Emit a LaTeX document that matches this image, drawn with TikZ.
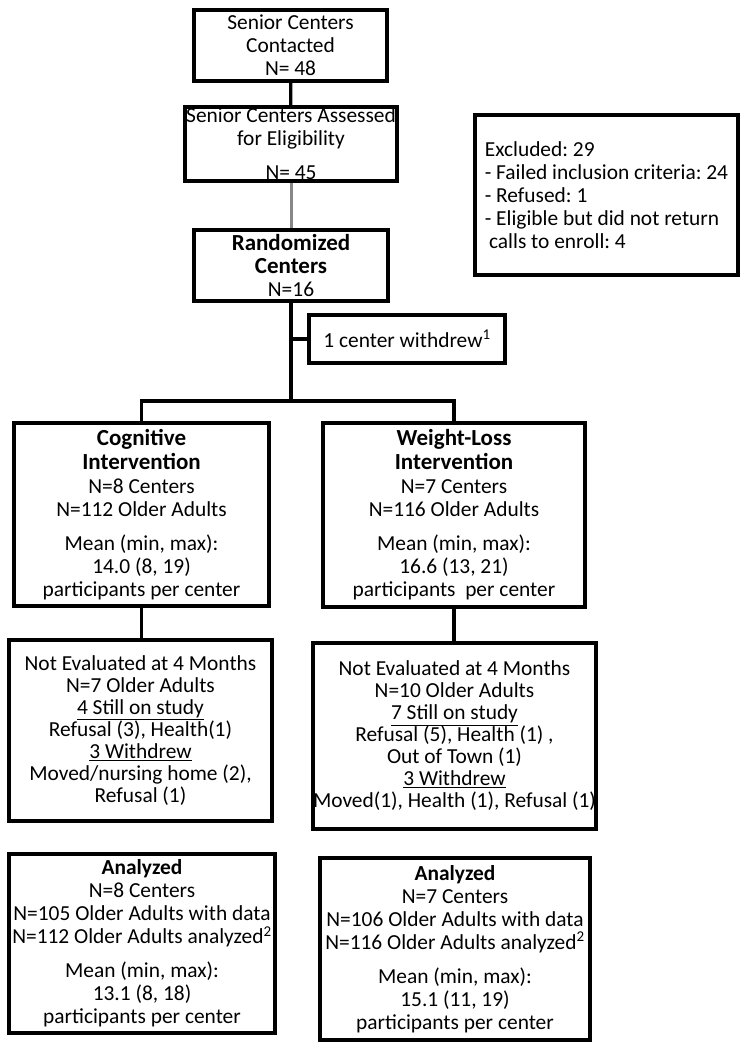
\documentclass[tikz,border=0pt]{standalone}
\usepackage{fontspec}
\setmainfont{Carlito}
\usetikzlibrary{backgrounds}
\newcommand\hd[1]{{\fontsize{23}{25}\selectfont\bfseries #1}}
\definecolor{midgray}{RGB}{135,135,135}
\frenchspacing
\begin{document}
\frenchspacing
\begin{tikzpicture}[x=1pt,y=-1pt,
  box/.style={draw=black, line width=4pt, fill=white, inner sep=0pt, align=center,
              font=\fontsize{21.4}{23}\selectfont\frenchspacing},
  tightbox/.style={box, font=\fontsize{21.4}{22}\selectfont\frenchspacing},
  conn/.style={draw=black, line width=3.3pt}]
\useasboundingbox (0,0) rectangle (748,1050);

\node[box, minimum width=193pt, minimum height=71pt] (contacted) at (290.5,45.5)
  {Senior Centers\\Contacted\\N= 48};
\node[box, minimum width=212pt, minimum height=74pt] (assessed) at (291,144)
  {Senior Centers Assessed\\for Eligibility\\[11pt]N= 45};
\node[box, minimum width=194pt, minimum height=71pt] (random) at (291,265.5)
  {\hd{Randomized}\\\hd{Centers}\\N=16};
\node[box, minimum width=196pt, minimum height=48pt] (withdrew) at (407,339)
  {1 center withdrew\textsuperscript{1}};
\node[box, align=left, minimum width=263pt, minimum height=160pt] (excluded) at (606.5,195)
  {Excluded: 29\\- Failed inclusion criteria: 24\\- Refused: 1\\- Eligible but did not return\\\hspace*{0.2em}calls to enroll: 4};

\node[box, minimum width=255pt, minimum height=183pt] (cog) at (141.5,514.5)
  {\hd{Cognitive}\\[1pt]\hd{Intervention}\\[1pt]N=8 Centers\\N=112 Older Adults\\[11pt]Mean (min, max):\\14.0 (8, 19)\\participants per center};
\node[box, minimum width=262pt, minimum height=184pt] (wl) at (454,515)
  {\hd{Weight-Loss}\\[1pt]\hd{Intervention}\\[1pt]N=7 Centers\\N=116 Older Adults\\[11pt]Mean (min, max):\\16.6 (13, 21)\\participants\ \ per center};

\node[tightbox, minimum width=263pt, minimum height=181pt] (ne1) at (140.5,730.5)
  {Not Evaluated at 4 Months\\N=7 Older Adults\\\underline{4 Still on study}\\Refusal (3), Health(1)\\\underline{3 Withdrew}\\Moved/nursing home (2),\\Refusal (1)};
\node[tightbox, minimum width=261pt, minimum height=186pt] (ne2) at (454.5,736)
  {Not Evaluated at 4 Months\\N=10 Older Adults\\\underline{7 Still on study}\\Refusal (5), Health (1) ,\\Out of Town (1)\\\underline{3 Withdrew}\\Moved(1), Health (1), Refusal (1)};

\node[box, minimum width=266pt, minimum height=179pt] (an1) at (142,943.5)
  {\textbf{Analyzed}\\N=8 Centers\\N=105 Older Adults with data\\N=112 Older Adults analyzed\textsuperscript{2}\\[11pt]Mean (min, max):\\13.1 (8, 18)\\participants per center};
\node[box, minimum width=270pt, minimum height=182pt] (an2) at (455,949)
  {\textbf{Analyzed}\\N=7 Centers\\N=106 Older Adults with data\\N=116 Older Adults analyzed\textsuperscript{2}\\[11pt]Mean (min, max):\\15.1 (11, 19)\\participants per center};

\coordinate (branch) at (291,401);

\begin{scope}[on background layer]
\fill[white] (0,0) rectangle (748,1050);
\draw[conn] (contacted) -- (assessed);
\draw[draw=midgray, line width=3pt] (assessed) -- (random);
\draw[conn] (random) -- (branch);
\draw[conn] (random.south |- withdrew.west) -- (withdrew.west);
\draw[conn, line join=miter] (cog.north) -- (cog.north |- branch) -- (wl.north |- branch) -- (wl.north);
\draw[conn] (cog.south) -- (cog.south |- ne1.north);
\draw[conn] (wl.south) -- (wl.south |- ne2.north);
\end{scope}
\end{tikzpicture}
\end{document}
